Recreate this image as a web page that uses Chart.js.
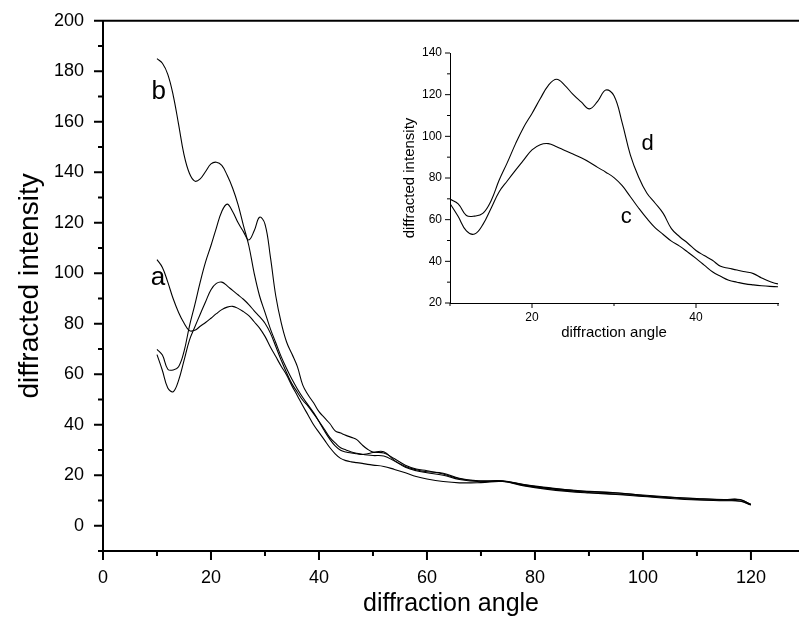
<!DOCTYPE html>
<html>
<head>
<meta charset="utf-8">
<script src="https://cdn.jsdelivr.net/npm/chart.js@4.4.1/dist/chart.umd.min.js"></script>
<style>
  body { margin: 0; background: #fff; }
  #wrap { position: relative; width: 799px; height: 634px; }
  #main { position: absolute; left: 0; top: 0; }
  #inset { position: absolute; left: 380px; top: 30px; }
</style>
</head>
<body>
<div id="wrap">
  <canvas id="main" width="799" height="634"></canvas>
  <canvas id="inset" width="410" height="320"></canvas>
</div>
<script>
// diffraction angle (shared by all four curves)
const angles = [
  10, 11, 12, 13, 14, 15, 16, 17, 18, 19, 20, 21, 22, 23, 24, 25, 26, 27, 28, 29,
  30, 31, 32, 33, 34, 35, 36, 37, 38, 39, 40, 41, 42, 43, 44, 45, 46, 47, 48, 49,
  50, 52, 54, 56, 58, 60, 63, 66, 70, 74, 78, 82, 86, 90, 95, 100, 105, 110, 115, 118, 120
];

const curveA = [
  105.4, 102.3, 96.5, 89.9, 84.5, 80.3, 77.3, 77.4, 79, 80.5, 82.2, 84, 85.6, 86.6, 86.9, 86.1, 84.8, 83.2, 80.8, 78.3,
  75, 70.8, 67, 63.2, 59.7, 55.4, 51.5, 47.5, 43.8, 40, 37, 34, 31, 28.5, 26.7, 25.8, 25.3, 25, 24.7, 24.3,
  24, 23.5, 22.3, 21, 19.5, 18.5, 17.5, 17, 17.1, 17.5, 15.8, 14.5, 13.6, 13, 12.4, 11.6, 10.8, 10.2, 9.9, 9.7, 8.2
];
const curveB = [
  185, 183.2, 178.8, 170.5, 159, 147, 139.6, 136.5, 137.4, 140.3, 143.3, 144, 142.7, 138.8, 133.8, 127.3, 119, 111, 100, 91,
  84.5, 78, 72.5, 67, 62.3, 58, 54.2, 50.8, 47.8, 44.8, 41.3, 37.6, 34.3, 31.6, 29.9, 29.2, 28.8, 28.5, 28.2, 28.5,
  29, 29.3, 25.8, 23.5, 22.2, 21.4, 20.8, 18.8, 17.6, 17.7, 16.2, 15, 14.2, 13.5, 13.1, 12, 11.3, 10.8, 10.4, 10.4, 8.4
];
const curveC = [
  67.8, 61.5, 54.6, 53.1, 57.6, 65.4, 73.4, 78.7, 83.8, 88.7, 93.5, 96, 96.5, 95, 93.2, 91.5, 89.7, 87.6, 85.1, 82.8,
  80.2, 76.3, 71, 65.6, 60.6, 56.2, 52.9, 49.7, 47.3, 44.4, 41.4, 38.2, 35, 32.8, 30.9, 30, 29.2, 28.7, 28.3, 28,
  27.8, 27.6, 25.6, 23.2, 21.8, 21, 20, 18.3, 17.4, 17.6, 16, 14.8, 13.9, 13.2, 12.6, 11.8, 11.1, 10.4, 10.1, 9.8, 8.3
];
const curveD = [
  69.9, 67.6, 62, 61.7, 63, 69, 79, 87.5, 96.5, 104.5, 111, 118, 124.5, 127.4, 124.5, 120.1, 116.5, 113.2, 116.8, 122.2,
  119.5, 106.5, 91, 80.5, 72.8, 68, 63, 55.7, 51.8, 48.7, 45.2, 42.8, 40.5, 37.6, 36.7, 35.8, 35, 34.1, 32, 30.3,
  29.2, 28.8, 26.5, 24, 22.5, 21.8, 20.5, 18.6, 17.8, 17.8, 16.3, 15.2, 14.2, 13.6, 13, 12.2, 11.4, 10.7, 10.3, 10.3, 8.5
];

// tick values
const mainXTicks = [0, 10, 20, 30, 40, 50, 60, 70, 80, 90, 100, 110, 120];
const mainYTicks = [-10, 0, 10, 20, 30, 40, 50, 60, 70, 80, 90, 100, 110, 120, 130, 140, 150, 160, 170, 180, 190, 200];
const insetXTicks = [10, 20, 30, 40, 50];
const insetYTicks = [20, 30, 40, 50, 60, 70, 80, 90, 100, 110, 120, 130, 140];

// curve letters, in data coordinates
const mainLetters = [
  { text: "b", x: 10.3, y: 172 },
  { text: "a", x: 10.2, y: 98 }
];
const insetLetters = [
  { text: "d", x: 34.1, y: 96.3 },
  { text: "c", x: 31.5, y: 61.2 }
];

const FONT = "'Liberation Sans', Arial, Helvetica, sans-serif";

function points(ys, maxX) {
  return angles
    .map((x, i) => ({ x: x, y: ys[i] }))
    .filter(p => maxX === undefined || p.x <= maxX);
}

function lineSet(label, ys, maxX) {
  return {
    label: label,
    data: points(ys, maxX),
    borderColor: "#000",
    borderWidth: 1.1,
    pointRadius: 0,
    tension: 0.4,
    fill: false,
  };
}

// short/long tick marks, frame line and curve letters
const axisMarks = {
  id: "axisMarks",
  afterDraw(chart, args, opts) {
    const { ctx, chartArea, scales } = chart;
    const x = scales.x;
    const y = scales.y;
    ctx.save();
    ctx.strokeStyle = "#000";
    ctx.lineWidth = opts.lineWidth;
    ctx.beginPath();
    x.ticks.forEach(t => {
      const px = x.getPixelForValue(t.value);
      const len = t.value % opts.step === 0 ? opts.major : opts.minor;
      ctx.moveTo(px, chartArea.bottom);
      ctx.lineTo(px, chartArea.bottom + len);
    });
    y.ticks.forEach(t => {
      const py = y.getPixelForValue(t.value);
      const len = t.value % opts.step === 0 ? opts.major : opts.minor;
      ctx.moveTo(chartArea.left - len, py);
      ctx.lineTo(chartArea.left, py);
    });
    if (opts.topLine) {
      ctx.moveTo(chartArea.left, chartArea.top);
      ctx.lineTo(chartArea.right, chartArea.top);
    }
    ctx.stroke();
    ctx.fillStyle = "#000";
    ctx.font = opts.letterSize + "px " + FONT;
    ctx.textAlign = "center";
    ctx.textBaseline = "middle";
    opts.letters.forEach(l => {
      ctx.fillText(l.text, x.getPixelForValue(l.x), y.getPixelForValue(l.y));
    });
    ctx.restore();
  }
};

function axisOptions(cfg) {
  return {
    type: "linear",
    position: cfg.position,
    min: cfg.min,
    max: cfg.max,
    afterBuildTicks: s => { s.ticks = cfg.ticks.map(v => ({ value: v })); },
    afterFit: s => {
      if (cfg.position === "bottom") s.height = cfg.size;
      else s.width = cfg.size;
    },
    grid: {
      display: true,
      drawOnChartArea: false,
      drawTicks: true,
      tickLength: cfg.tickLength,
      color: "rgba(0,0,0,0)",
    },
    border: { display: true, color: "#000", width: cfg.borderWidth },
    ticks: {
      color: "#000",
      autoSkip: false,
      maxRotation: 0,
      padding: cfg.padding,
      font: { family: FONT, size: cfg.fontSize },
      callback: v => (v % 20 === 0 && v >= cfg.labelFrom ? String(v) : ""),
    },
    title: {
      display: true,
      text: cfg.title,
      color: "#000",
      font: { family: FONT, size: cfg.titleSize },
      padding: cfg.titlePadding,
    },
  };
}

new Chart(document.getElementById("main"), {
  type: "line",
  data: {
    datasets: [
      lineSet("a", curveA),
      lineSet("b", curveB),
      lineSet("c", curveC),
      lineSet("d", curveD),
    ],
  },
  options: {
    responsive: false,
    animation: false,
    layout: { padding: { top: 17, right: 0, left: 0, bottom: 0 } },
    plugins: {
      legend: { display: false },
      tooltip: { enabled: false },
      axisMarks: { lineWidth: 2, step: 20, major: 9, minor: 5, topLine: true, letters: mainLetters, letterSize: 26 },
    },
    scales: {
      x: axisOptions({
        position: "bottom", min: 0, max: 128.9, ticks: mainXTicks, size: 83,
        tickLength: 10, padding: 6, fontSize: 18, borderWidth: 2, labelFrom: 0,
        title: "diffraction angle", titleSize: 25, titlePadding: { top: 0, bottom: 15 },
      }),
      y: axisOptions({
        position: "left", min: -10, max: 200, ticks: mainYTicks, size: 103,
        tickLength: 9, padding: 10, fontSize: 18, borderWidth: 2, labelFrom: 0,
        title: "diffracted intensity", titleSize: 28, titlePadding: { top: 13, bottom: 0 },
      }),
    },
  },
  plugins: [axisMarks],
});

new Chart(document.getElementById("inset"), {
  type: "line",
  data: {
    datasets: [
      lineSet("c", curveC, 52),
      lineSet("d", curveD, 52),
    ],
  },
  options: {
    responsive: false,
    animation: false,
    layout: { padding: { top: 23, right: 12, left: 0, bottom: 0 } },
    plugins: {
      legend: { display: false },
      tooltip: { enabled: false },
      axisMarks: { lineWidth: 1, step: 20, major: 5, minor: 3, topLine: false, letters: insetLetters, letterSize: 22 },
    },
    scales: {
      x: axisOptions({
        position: "bottom", min: 10, max: 50, ticks: insetXTicks, size: 47,
        tickLength: 5, padding: 2, fontSize: 12, borderWidth: 1, labelFrom: 0,
        title: "diffraction angle", titleSize: 15, titlePadding: { top: 0, bottom: 8 },
      }),
      y: axisOptions({
        position: "left", min: 20, max: 140, ticks: insetYTicks, size: 70,
        tickLength: 5, padding: 3, fontSize: 12, borderWidth: 1, labelFrom: 0,
        title: "diffracted intensity", titleSize: 15, titlePadding: { top: 21, bottom: 0 },
      }),
    },
  },
  plugins: [axisMarks],
});
</script>
</body>
</html>
